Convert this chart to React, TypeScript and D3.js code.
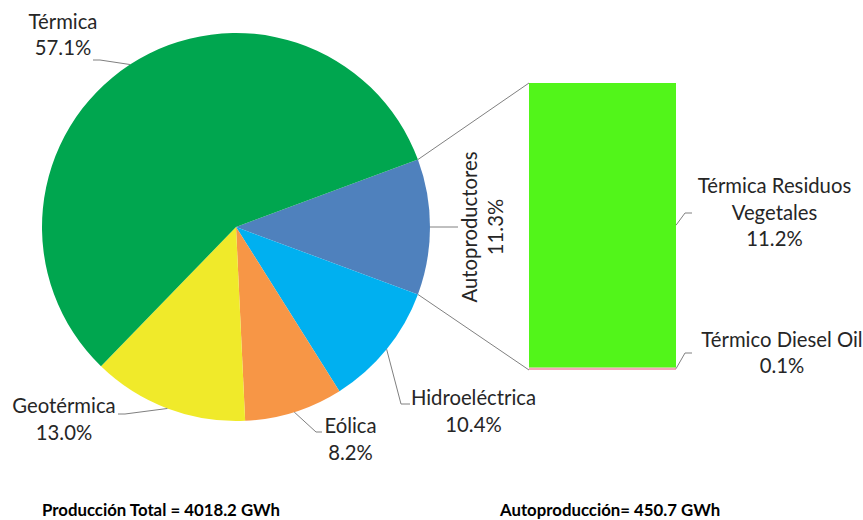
import React from "react";
import * as d3 from "d3";

// Generación eléctrica por fuente (% de la producción total)
const pieCategories = ["Autoproductores", "Hidroeléctrica", "Eólica", "Geotérmica", "Térmica"];
const pieShares = [11.3, 10.4, 8.2, 13.0, 57.1];
const pieColors = ["#4F81BD", "#00B0F0", "#F79646", "#F0EA2A", "#00A64F"];

// Desglose de autoproductores, apilado de abajo hacia arriba
const barCategories = ["Térmico Diesel Oil", "Térmica Residuos Vegetales"];
const barShares = [0.1, 11.2];
const barColors = ["#F4A7B9", "#52F51A"];

const footerLabels = ["Producción Total = 4018.2 GWh", "Autoproducción= 450.7 GWh"];

const W = 863;
const H = 520;
const FONT = "Lato, 'Open Sans', sans-serif";
const TEXT = "#262626";
const LEADER = "#808080";
const LABEL_SIZE = 20.3;
const FOOTER_SIZE = 16.8;

const cx = 236;
const cy = 227;
const R = 194;

const barLeft = 529;
const barRight = 676;
const barTop = 83;
const barBottom = 370;

type Pt = [number, number];

const pct = (v: number) => `${v.toFixed(1)}%`;

// label placement for pie slices: text lines, anchor x, baselines, leader elbow points
const pieLabelLayout: Record<string, { lines: string[]; x: number; ys: number[]; leader: Pt[] }> = {
  "Térmica": { lines: ["Térmica"], x: 63, ys: [29, 55], leader: [[93, 60], [100, 60]] },
  "Geotérmica": { lines: ["Geotérmica"], x: 64, ys: [413, 440], leader: [[118, 414], [125, 414]] },
  "Eólica": { lines: ["Eólica"], x: 350.5, ys: [433, 460], leader: [[322, 432], [316, 432]] },
  "Hidroeléctrica": { lines: ["Hidroeléctrica"], x: 473.5, ys: [405, 432], leader: [[410, 404], [401, 404]] },
};

const barLabelLayout: Record<string, { lines: string[]; x: number; ys: number[]; leader: Pt[] }> = {
  "Térmica Residuos Vegetales": {
    lines: ["Térmica Residuos", "Vegetales"],
    x: 774.5,
    ys: [193, 220, 246],
    leader: [[685, 213], [692, 213]],
  },
  "Térmico Diesel Oil": {
    lines: ["Térmico Diesel Oil"],
    x: 782,
    ys: [347, 373],
    leader: [[685, 353], [692, 353]],
  },
};

export default function App() {
  const otherShare = pieShares[0];
  const start = Math.PI / 2 - (otherShare / 100) * Math.PI;

  const pie = d3
    .pie<number>()
    .sort(null)
    .value((d) => d)
    .startAngle(start)
    .endAngle(start + 2 * Math.PI);
  const arcs = pie(pieShares);
  const arc = d3.arc<d3.PieArcDatum<number>>().innerRadius(0).outerRadius(R);

  const edge = (a: number): Pt => [cx + R * Math.sin(a), cy - R * Math.cos(a)];

  const barTotal = d3.sum(barShares);
  const y = d3.scaleLinear().domain([0, barTotal]).range([barBottom, barTop]);
  const x = d3.scaleBand().domain(["Autoproductores"]).range([barLeft, barRight]).padding(0);
  const stacked = barShares.map((v, i) => {
    const y0 = d3.sum(barShares.slice(0, i));
    return { name: barCategories[i], v, y0, y1: y0 + v, color: barColors[i] };
  });

  const line = d3.line();

  const otherArc = arcs[0];
  const topEdge = edge(otherArc.startAngle);
  const botEdge = edge(otherArc.endAngle);
  const otherMid = edge((otherArc.startAngle + otherArc.endAngle) / 2);

  const bx = x("Autoproductores") as number;
  const bw = x.bandwidth();

  return (
    <svg
      width={W}
      height={H}
      style={{ position: "absolute", left: 0, top: 0, background: "#fff" }}
      fontFamily={FONT}
    >
      <rect width={W} height={H} fill="#fff" />
      {/* pie slices */}
      <g transform={`translate(${cx},${cy})`}>
        {arcs.map((a, i) => (
          <path key={pieCategories[i]} d={arc(a) || ""} fill={pieColors[i]} />
        ))}
      </g>

      {/* connectors from the Autoproductores slice to the bar */}
      <path d={line([topEdge, [bx, y(barTotal)]]) || ""} stroke={LEADER} strokeWidth={1} fill="none" />
      <path d={line([botEdge, [bx, y(0)]]) || ""} stroke={LEADER} strokeWidth={1} fill="none" />

      {/* stacked bar */}
      {stacked.map((s) => (
        <rect key={s.name} x={bx} y={y(s.y1)} width={bw} height={y(s.y0) - y(s.y1)} fill={s.color} />
      ))}

      {/* pie labels */}
      {arcs.slice(1).map((a, k) => {
        const i = k + 1;
        const name = pieCategories[i];
        const lay = pieLabelLayout[name];
        const tip = edge((a.startAngle + a.endAngle) / 2);
        const lines = [...lay.lines, pct(pieShares[i])];
        return (
          <g key={name}>
            <path d={line([...lay.leader, tip]) || ""} stroke={LEADER} strokeWidth={1} fill="none" />
            {lines.map((t, j) => (
              <text key={j} x={lay.x} y={lay.ys[j]} textAnchor="middle" fontSize={LABEL_SIZE} fill={TEXT}>
                {t}
              </text>
            ))}
          </g>
        );
      })}

      {/* Autoproductores label, rotated */}
      <path d={line([otherMid, [458, otherMid[1]]]) || ""} stroke={LEADER} strokeWidth={1} fill="none" />
      <g transform={`translate(${477},${otherMid[1]}) rotate(-90)`}>
        <text x={0} y={0} textAnchor="middle" fontSize={LABEL_SIZE} fill={TEXT}>
          {pieCategories[0]}
        </text>
        <text x={0} y={26} textAnchor="middle" fontSize={LABEL_SIZE} fill={TEXT}>
          {pct(otherShare)}
        </text>
      </g>

      {/* bar labels */}
      {stacked.map((s) => {
        const lay = barLabelLayout[s.name];
        const mid: Pt = [bx + bw, y((s.y0 + s.y1) / 2)];
        const lines = [...lay.lines, pct(s.v)];
        return (
          <g key={s.name}>
            <path d={line([mid, ...lay.leader]) || ""} stroke={LEADER} strokeWidth={1} fill="none" />
            {lines.map((t, j) => (
              <text key={j} x={lay.x} y={lay.ys[j]} textAnchor="middle" fontSize={LABEL_SIZE} fill={TEXT}>
                {t}
              </text>
            ))}
          </g>
        );
      })}

      {/* footer totals */}
      <text x={42} y={515.5} fontSize={FOOTER_SIZE} fontWeight="bold" fill="#000">
        {footerLabels[0]}
      </text>
      <text x={500} y={515.5} fontSize={FOOTER_SIZE} fontWeight="bold" fill="#000">
        {footerLabels[1]}
      </text>
    </svg>
  );
}
